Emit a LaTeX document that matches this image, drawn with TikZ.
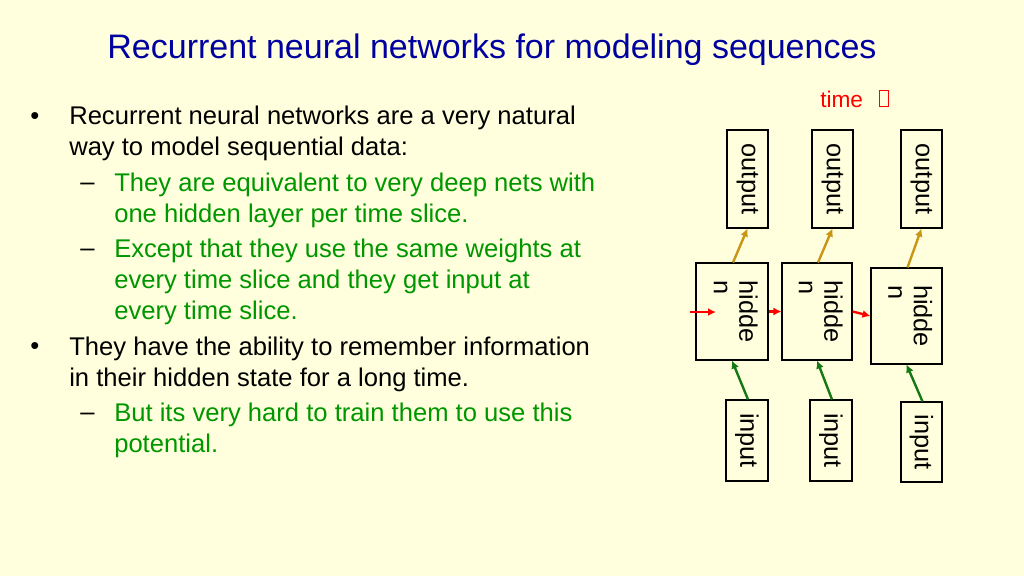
\documentclass[tikz,border=0pt]{standalone}
\usepackage{fontspec}
\setmainfont{Liberation Sans}
\usepackage{xcolor}
\definecolor{slidebg}{RGB}{255,255,221}
\definecolor{titleblue}{RGB}{0,0,160}
\definecolor{subgreen}{RGB}{0,150,0}
\definecolor{outgold}{RGB}{200,150,20}
\definecolor{ingreen}{RGB}{20,120,20}
\usetikzlibrary{calc,positioning,arrows.meta}
\tikzset{
  box/.style={draw,thick,fill=slidebg,inner sep=0pt,font=\fontsize{19}{19}\selectfont},
  para/.style={anchor=base west,align=left,inner sep=0pt,font=\fontsize{19.2}{23.25}\selectfont},
  tip/.style={-{Latex[length=6pt,width=6pt]},line width=1.8pt}
}
\begin{document}
\begin{tikzpicture}[x=0.75pt,y=-0.75pt]
            % Slide background
            \fill[slidebg] (0,0) rectangle (1024,576);
            \useasboundingbox (0,0) rectangle (1024,576);
            % Title
            \node[anchor=base,text=titleblue,font=\fontsize{25.5}{28}\selectfont] (title) at (492,58) {Recurrent neural networks for modeling sequences};
            % Bullets
            \node[para] (b1) at (30,124) {•};
            \node[para] (p1) at (69,155) {Recurrent neural networks are a very natural\\way to model sequential data:};
            \node[para] (d1) at (80,190) {–};
            \node[para,text=subgreen] (s1) at (114,222) {They are equivalent to very deep nets with\\one hidden layer per time slice.};
            \node[para] (d2) at (80,256) {–};
            \node[para,text=subgreen] (s2) at (114,319) {Except that they use the same weights at\\every time slice and they get input at\\every time slice.};
            \node[para] (b2) at (30,354) {•};
            \node[para] (p2) at (69,386) {They have the ability to remember information\\in their hidden state for a long time.};
            \node[para] (d3) at (80,420) {–};
            \node[para,text=subgreen] (s3) at (114,452) {But its very hard to train them to use this\\potential.};
            % Time label
            \node[anchor=base west,text=red,font=\fontsize{17}{20}\selectfont,inner sep=0pt] (time) at (820,107) {time};
            \draw[red] (879,90) rectangle (888,106);
            % Output boxes
            \node[box,minimum width=30.75pt,minimum height=73.5pt] (o1) at (747.5,179) {\rotatebox{-90}{output}};
            \node[box,minimum width=30.75pt,minimum height=73.5pt] (o2) at (832.5,179) {\rotatebox{-90}{output}};
            \node[box,minimum width=30.75pt,minimum height=73.5pt] (o3) at (921.5,179) {\rotatebox{-90}{output}};
            % Hidden boxes
            \node[box,minimum width=54pt,minimum height=72.75pt] (h1) at (732,311.5) {\rotatebox{-90}{\begin{tabular}{@{}l@{}}hidde\\n\end{tabular}}};
            \node[box,minimum width=52.5pt,minimum height=72.75pt] (h2) at (817,311.5) {\rotatebox{-90}{\begin{tabular}{@{}l@{}}hidde\\n\end{tabular}}};
            \node[box,minimum width=53.25pt,minimum height=72pt] (h3) at (906.5,316) {\rotatebox{-90}{\begin{tabular}{@{}l@{}}hidde\\n\end{tabular}}};
            % Input boxes
            \node[box,minimum width=31.5pt,minimum height=60.75pt] (i1) at (747,440.5) {\rotatebox{-90}{input}};
            \node[box,minimum width=31.5pt,minimum height=60.75pt] (i2) at (831,440.5) {\rotatebox{-90}{input}};
            \node[box,minimum width=30.75pt,minimum height=60pt] (i3) at (921.5,442) {\rotatebox{-90}{input}};
            % Hidden to output
            \draw[tip,outgold] ($(h1.north)+(1,0)$) -- (o1.south);
            \draw[tip,outgold] ($(h2.north)+(1,0)$) -- (o2.south);
            \draw[tip,outgold] ($(h3.north)+(1,0)$) -- (o3.south);
            % Input to hidden
            \draw[tip,ingreen] ($(i1.north)+(1,0)$) -- (h1.south);
            \draw[tip,ingreen] ($(i2.north)+(1,0)$) -- (h2.south);
            \draw[tip,ingreen] ($(i3.north)+(1,0)$) -- (h3.south);
            % Recurrent connections
            \coordinate (start) at (690,312);
            \draw[tip,red] (start) -- (716,312);
            \draw[tip,red] (h1.east) -- (h2.west);
            \draw[tip,red] (h2.east) -- (h3.west);
\end{tikzpicture}
\end{document}
